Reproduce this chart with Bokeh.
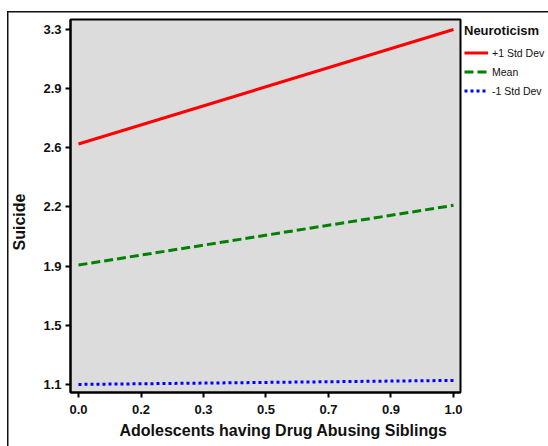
from bokeh.plotting import figure
from bokeh.models import (Legend, LegendItem, FixedTicker, CustomJSTickFormatter,
                          Title, Range1d)
from bokeh.embed import file_html
from bokeh.resources import INLINE

# Predictor levels (x) and predicted Suicide at three levels of Neuroticism
x_vals = [0.0, 1.0]
high_neuro = [2.59, 3.30]   # +1 Std Dev
mean_neuro = [1.84, 2.21]   # Mean
low_neuro = [1.10, 1.125]   # -1 Std Dev
series_labels = ["+1 Std Dev", "Mean", "-1 Std Dev"]

# Axis ticks (evenly spaced) and the labels printed at them
x_ticks = [0.0, 0.1667, 0.3333, 0.5, 0.6667, 0.8333, 1.0]
x_tick_labels = ["0.0", "0.2", "0.3", "0.5", "0.7", "0.9", "1.0"]
y_ticks = [1.1, 1.4667, 1.8333, 2.2, 2.5667, 2.9333, 3.3]
y_tick_labels = ["1.1", "1.5", "1.9", "2.2", "2.6", "2.9", "3.3"]

FONT = "Liberation Sans"

# Outer frame lines (top and left) drawn as the page background behind a
# transparent canvas border
frame_css = {
    "background-color": "white",
    "background-image": "linear-gradient(#111, #111), linear-gradient(#111, #111)",
    "background-size": "1.5px 100%, 100% 1.5px",
    "background-position": "7px 11px, 7px 11px",
    "background-repeat": "no-repeat",
}

p = figure(frame_width=390, frame_height=373,
           x_range=Range1d(-0.0213, 1.0187), y_range=Range1d(1.050, 3.362),
           output_backend="svg", toolbar_location=None,
           min_border_left=69, min_border_right=89,
           min_border_top=19, min_border_bottom=54,
           background_fill_color="#DCDCDC",
           border_fill_color=None,
           outline_line_color="black", outline_line_width=2,
           styles=frame_css)

p.xgrid.visible = False
p.ygrid.visible = False

p.xaxis.ticker = FixedTicker(ticks=x_ticks)
p.xaxis.formatter = CustomJSTickFormatter(args=dict(labels=x_tick_labels),
                                          code="return labels[index];")
p.yaxis.ticker = FixedTicker(ticks=y_ticks)
p.yaxis.formatter = CustomJSTickFormatter(args=dict(labels=y_tick_labels),
                                          code="return labels[index];")

for ax in (p.xaxis, p.yaxis):
    ax.axis_line_color = "black"
    ax.axis_line_width = 2
    ax.major_tick_line_color = "black"
    ax.major_tick_line_width = 2
    ax.major_tick_out = 5
    ax.major_tick_in = 0
    ax.minor_tick_out = 0
    ax.minor_tick_in = 0
    ax.major_label_text_font = FONT
    ax.major_label_text_font_style = "bold"
    ax.major_label_text_font_size = "13px"
    ax.major_label_text_color = "#111111"
p.xaxis.major_label_standoff = 7
p.yaxis.major_label_standoff = 4

# Axis titles as separate titles so they can be shifted along the axis
p.add_layout(Title(text="Adolescents having Drug Abusing Siblings",
                   align="left", offset=49, standoff=6,
                   vertical_align="bottom",
                   text_font=FONT, text_font_style="bold",
                   text_font_size="16px", text_color="#111111"), "below")
p.add_layout(Title(text="Suicide", align="left", offset=142, standoff=21,
                   vertical_align="top",
                   text_font=FONT, text_font_style="bold",
                   text_font_size="16px", text_color="#111111"), "left")

r_high = p.line(x_vals, high_neuro, line_color="#FF0000", line_width=3)
r_mean = p.line(x_vals, mean_neuro, line_color="#008000", line_width=3,
                line_dash="9 4")
r_low = p.line(x_vals, low_neuro, line_color="#0000FF", line_width=3,
               line_dash="3 3")

legend = Legend(items=[LegendItem(label=series_labels[0], renderers=[r_high]),
                       LegendItem(label=series_labels[1], renderers=[r_mean]),
                       LegendItem(label=series_labels[2], renderers=[r_low])],
                title="Neuroticism", location="top_left",
                border_line_alpha=0, background_fill_alpha=0,
                padding=0, margin=4, spacing=0,
                glyph_width=24, glyph_height=19, label_height=19,
                label_standoff=4, title_standoff=5,
                title_text_font=FONT, title_text_font_style="bold",
                title_text_font_size="13px", title_text_color="#111111",
                label_text_font=FONT, label_text_font_size="10.5px",
                label_text_color="#111111")
p.add_layout(legend, "right")

open("out.html", "w").write(file_html(p, INLINE))
